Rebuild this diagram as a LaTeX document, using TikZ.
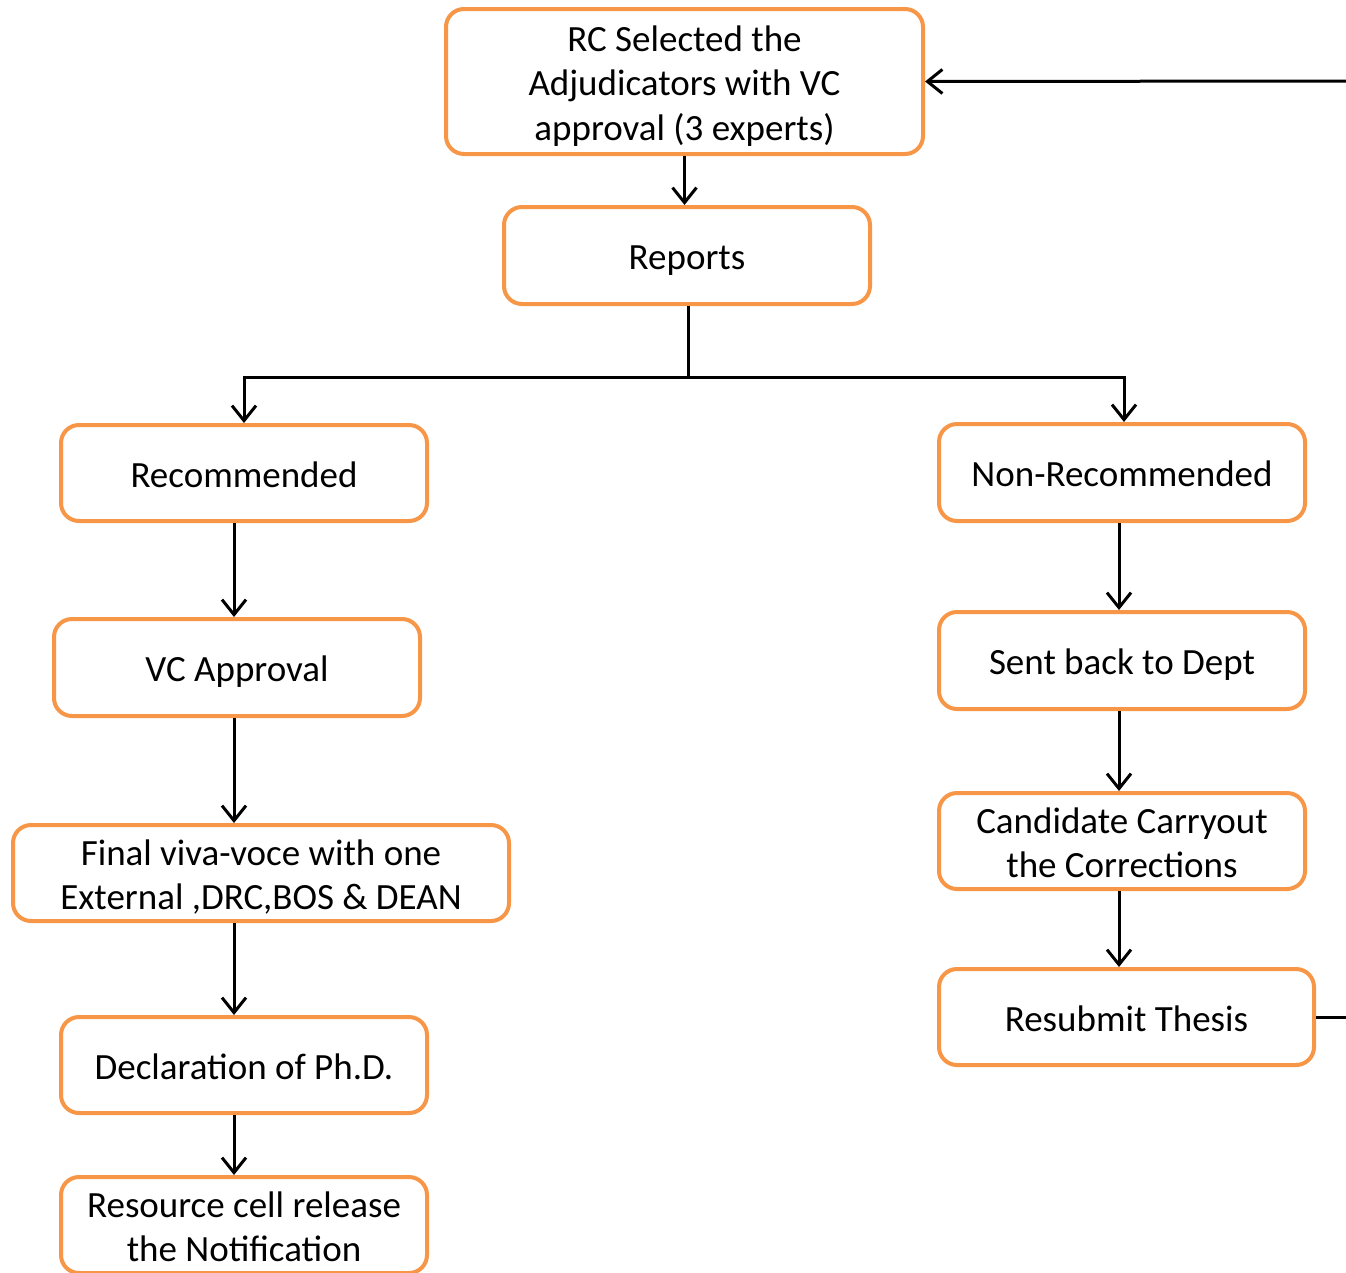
\documentclass[tikz,border=0pt]{standalone}
\usepackage{fontspec}
\setmainfont{Carlito}
\usetikzlibrary{arrows.meta}
\definecolor{boxorange}{HTML}{F79646}
\tikzset{
  box/.style={draw=boxorange, line width=4pt, rounded corners=18pt, fill=white,
    align=center, inner sep=0pt, font=\fontsize{37}{44.5}\selectfont,
    text height=28.5pt, text depth=0pt},
  twoline/.style={text height=73pt},
  threeline/.style={text height=117.5pt},
  conn/.style={line width=3pt, draw=black},
  arr/.style={conn, -{Straight Barb[length=15pt,width=24pt,line width=3pt]}}
}
\begin{document}
\begin{tikzpicture}[x=1pt,y=-1pt]
\useasboundingbox (0,0) rectangle (1346,1272);
\node[box, threeline, minimum width=477pt, minimum height=145pt] (rc) at (684.5,81.5) {RC Selected the\\Adjudicators with VC\\approval (3 experts)};
\node[box, minimum width=366pt, minimum height=97pt] (rep) at (687,255.5) {Reports};
\node[box, minimum width=366pt, minimum height=96pt] (rec) at (244,473) {Recommended};
\node[box, minimum width=366pt, minimum height=97pt] (vc) at (237,667.5) {VC Approval};
\node[box, twoline, minimum width=496pt, minimum height=96pt] (viva) at (261,873) {Final viva-voce with one\\External ,DRC,BOS \& DEAN};
\node[box, minimum width=366pt, minimum height=96pt] (decl) at (244,1065) {Declaration of Ph.D.};
\node[box, twoline, minimum width=366pt, minimum height=96pt] (res) at (244,1225) {Resource cell release\\the Notification};
\node[box, minimum width=366pt, minimum height=97pt] (non) at (1122,472.5) {Non-Recommended};
\node[box, minimum width=366pt, minimum height=97pt] (sent) at (1122,660.5) {Sent back to Dept};
\node[box, twoline, minimum width=366pt, minimum height=96pt] (cand) at (1122,841) {Candidate Carryout\\the Corrections};
\node[box, minimum width=375pt, minimum height=96pt] (resub) at (1126.5,1017) {Resubmit Thesis};

\coordinate (split) at (688,377);
\coordinate (outA) at (1350,1017);
\coordinate (outB) at (1350,81);

\draw[arr] (rc.south) -- ([xshift=-2.5pt]rep.north);
\draw[conn] ([xshift=1pt]rep.south) -- (split);
\draw[arr] (split) -| (rec.north);
\draw[arr] (split) -| ([xshift=2pt]non.north);
\draw[arr] ([xshift=-10pt]rec.south) -- ([xshift=-3pt]vc.north);
\draw[arr] ([xshift=-3pt]vc.south) -- ([xshift=-27pt]viva.north);
\draw[arr] ([xshift=-27pt]viva.south) -- ([xshift=-10pt]decl.north);
\draw[arr] ([xshift=-10pt]decl.south) -- ([xshift=-10pt]res.north);
\draw[arr] ([xshift=-3pt]non.south) -- ([xshift=-3pt]sent.north);
\draw[arr] ([xshift=-3pt]sent.south) -- ([xshift=-3pt]cand.north);
\draw[arr] ([xshift=-3pt]cand.south) -- ([xshift=-7.5pt]resub.north);
\draw[conn] (resub.east) -- (outA);
\draw[arr] (outB) -- (rc.east);
\end{tikzpicture}
\end{document}
